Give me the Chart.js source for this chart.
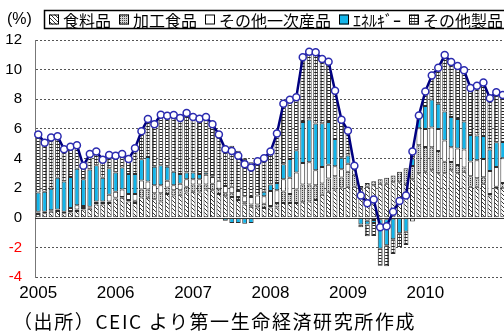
<!DOCTYPE html>
<html>
<head>
<meta charset="utf-8">
<script src="https://cdn.jsdelivr.net/npm/chart.js@4/dist/chart.umd.min.js"></script>
<style>
html,body{margin:0;padding:0;background:#fff;overflow:hidden;width:504px;height:331px;}
#wrap{position:relative;width:504px;height:331px;overflow:hidden;}
canvas{position:absolute;left:0;top:0;}
#note{position:absolute;left:13px;top:311px;font-family:"Noto Sans CJK JP",sans-serif;font-size:19px;line-height:1;letter-spacing:1.6px;white-space:nowrap;color:#000;}
</style>
</head>
<body>
<div id="wrap">
<canvas id="c" width="520" height="331"></canvas>
<div id="note">（出所）CEIC より第一生命経済研究所作成</div>
</div>
<script>
const categories = [
 '2005/01','2005/02','2005/03','2005/04','2005/05','2005/06','2005/07','2005/08','2005/09','2005/10','2005/11','2005/12',
 '2006/01','2006/02','2006/03','2006/04','2006/05','2006/06','2006/07','2006/08','2006/09','2006/10','2006/11','2006/12',
 '2007/01','2007/02','2007/03','2007/04','2007/05','2007/06','2007/07','2007/08','2007/09','2007/10','2007/11','2007/12',
 '2008/01','2008/02','2008/03','2008/04','2008/05','2008/06','2008/07','2008/08','2008/09','2008/10','2008/11','2008/12',
 '2009/01','2009/02','2009/03','2009/04','2009/05','2009/06','2009/07','2009/08','2009/09','2009/10','2009/11','2009/12',
 '2010/01','2010/02','2010/03','2010/04','2010/05','2010/06','2010/07','2010/08','2010/09','2010/10','2010/11','2010/12',
 '2011/01'
];
const yearTicks = ['2005','2006','2007','2008','2009','2010'];

const food = [
 0.25,0.3,0.4,0.45,0.3,0.35,0.45,0.55,0.6,0.9,0.9,1.0,
 1.3,1.35,1.1,1.0,1.36,1.35,1.25,1.1,1.6,1.5,1.55,1.7,
 1.75,1.7,1.9,1.85,1.6,1.45,1.4,1.2,0.9,0.75,0.7,0.65,
 0.7,0.7,1.0,1.0,1.0,1.05,1.1,1.2,1.55,1.75,1.9,2.05,
 2.1,2.1,2.0,2.1,2.2,2.3,2.3,2.4,2.4,2.3,2.6,3.0,
 3.1,3.2,3.0,3.0,3.2,3.0,3.1,2.1,2.1,2.3,1.5,2.0,
 2.0
];
const processed = [
 0.1,0.1,0.1,0.1,0.1,0.1,0.1,0.1,0.1,0.1,0.1,0.1,
 0.05,0.05,0.1,0.15,0.55,0.55,0.4,0.55,0.45,0.35,0.3,0.4,
 0.5,0.55,0.35,0.45,0.35,0.2,0.25,0.2,0.15,0.15,0.2,0.3,
 0.1,0.3,0.78,0.6,0.9,1.2,1.15,1.0,0.77,0.9,0.9,0.67,
 1.0,0.8,0.15,0.25,0.27,0.3,0.4,0.45,0.7,1.05,0.9,1.9,
 1.67,1.56,1.5,0.78,0.56,0.56,0.3,0.7,0.56,0.44,0.1,0.1,
 0.35
];
const otherPrimary = [
 0.05,-0.05,-0.05,-0.05,-0.05,0.2,0.3,0.15,0.05,0.1,0.1,0.45,
 0.4,0.5,0.4,0.45,0.6,0.55,0.55,0.55,0.45,0.35,0.45,0.5,
 0.35,0.35,0.65,0.45,0.55,0.5,0.45,0.4,0.4,0.5,0.6,0.5,
 1.0,0.85,0.82,1.1,1.15,1.44,1.5,1.0,1.1,0.93,0.67,0.55,
 0.55,0.3,0,-0.2,-0.15,-0.1,-0.1,-0.05,0,0,-0.25,1.15,
 1.22,1.33,1.5,1.44,1.0,1.11,1.2,1.0,1.22,1.22,1.56,1.33,
 1.67
];
const energy = [
 1.3,1.35,1.45,2.15,2.05,2.1,2.45,1.8,2.5,2.45,1.6,1.8,
 1.3,1.5,1.35,1.35,1.44,1.65,1.25,1.35,0.95,0.9,0.65,0.45,
 0.45,0.35,0.15,0.05,0,-0.2,-0.35,-0.35,-0.4,-0.35,-0.1,0.3,
 0.45,0.5,1.02,1.27,1.5,2.78,2.89,3.16,2.96,2.89,1.84,0.78,
 0.55,0.1,-0.45,-0.25,-0.2,-2.0,-1.75,-1.4,-1.05,-0.95,0.5,0.85,
 1.55,1.9,1.7,1.96,2.04,2.0,1.89,1.78,1.67,1.56,1.44,1.67,
 1.1
];
const otherProducts = [
 3.92,3.37,3.52,2.86,2.22,2.05,1.59,0.91,1.06,0.92,1.21,0.89,
 1.13,0.91,1.01,1.74,1.89,2.57,2.86,3.41,3.44,3.83,3.78,4.02,
 3.75,3.74,3.75,3.51,3.12,2.67,2.76,2.73,2.57,2.35,2.42,2.27,
 2.22,3.34,4.07,3.99,3.58,4.37,4.56,4.82,4.33,4.06,3.27,2.57,
 1.67,0.21,-0.19,-0.8,-0.88,-1.14,-1.43,-1.0,-0.92,-0.89,0.72,0.01,
 0.99,1.61,2.43,3.8,3.71,3.57,3.47,3.18,3.36,3.61,3.47,3.37,
 3.17
];
const total = [
 5.62,5.07,5.42,5.51,4.62,4.8,4.89,3.51,4.31,4.47,3.91,4.24,
 4.18,4.31,3.96,4.69,5.84,6.67,6.31,6.96,6.89,6.93,6.73,7.07,
 6.8,6.69,6.8,6.31,5.62,4.62,4.51,4.18,3.62,3.4,3.82,4.02,
 4.47,5.69,7.69,7.96,8.13,10.84,11.2,11.18,10.71,10.53,8.58,6.62,
 5.87,3.51,1.51,0.98,1.24,-0.64,-0.58,0.4,1.13,1.51,4.47,6.91,
 8.53,9.6,10.13,10.98,10.51,10.24,9.96,8.76,8.91,9.13,8.07,8.47,
 8.29
];
const seriesNames = ['食料品','加工食品','その他一次産品','ｴﾈﾙｷﾞｰ','その他製品'];

const canvas = document.getElementById('c');
const ctx = canvas.getContext('2d');

function tile(w, h, draw) {
  const t = document.createElement('canvas');
  t.width = w; t.height = h;
  const g = t.getContext('2d');
  draw(g);
  return ctx.createPattern(t, 'repeat');
}
const hatchPat = tile(4, 4, g => {
  g.fillStyle = '#fff'; g.fillRect(0, 0, 4, 4);
  g.fillStyle = '#333';
  for (let k = 0; k < 4; k++) g.fillRect(k, k, 1, 1);
});
const dotPat = tile(2, 2, g => {
  g.fillStyle = '#d4d4d4'; g.fillRect(0, 0, 2, 2);
  g.fillStyle = '#444'; g.fillRect(0, 0, 1, 1);
});
const gridPat = tile(3, 3, g => {
  g.fillStyle = '#fff'; g.fillRect(0, 0, 3, 3);
  g.fillStyle = '#222'; g.fillRect(0, 0, 3, 1);
  g.fillStyle = '#888'; g.fillRect(0, 1, 1, 2);
});
const fills = [hatchPat, dotPat, '#ffffff', '#13B5EA', gridPat];
const seriesData = [food, processed, otherPrimary, energy, otherProducts];

const barSets = seriesData.map((d, k) => ({
  type: 'bar',
  label: seriesNames[k],
  data: d,
  backgroundColor: fills[k],
  borderColor: '#2e2e2e',
  borderWidth: 1,
  borderSkipped: false,
  stack: 'bars',
  order: 1,
  barPercentage: 0.76,
  categoryPercentage: 1.0
}));

const lineSet = {
  type: 'line',
  label: '総合',
  data: total,
  borderColor: '#000080',
  borderWidth: 2.5,
  pointRadius: 3.5,
  pointBackgroundColor: '#ffffff',
  pointBorderColor: '#2b2bb0',
  pointBorderWidth: 1.5,
  tension: 0,
  stack: 'line',
  order: 0
};

const narrow = "'Liberation Sans Narrow','Arial Narrow','Liberation Sans',sans-serif";
const jp = "'Noto Sans CJK JP',sans-serif";

const decor = {
  id: 'decor',
  beforeDatasetsDraw(chart) {
    const {ctx: c, chartArea: a, scales: {y}} = chart;
    const y0 = Math.round(y.getPixelForValue(0)) + 0.5;
    c.save();
    c.strokeStyle = '#333';
    c.lineWidth = 1;
    c.beginPath(); c.moveTo(a.left, y0); c.lineTo(a.right, y0); c.stroke();
    c.restore();
  },
  afterDraw(chart) {
    const c = chart.ctx;
    c.save();
    c.fillStyle = '#000';
    c.font = '16px ' + narrow;
    c.textBaseline = 'middle';
    c.textAlign = 'left';
    c.fillText('(%)', 7, 20);
    c.strokeStyle = '#000';
    c.lineWidth = 1.5;
    c.strokeRect(44.5, 10.5, 480, 18);
    c.font = '16px ' + jp;
    let x = 49;
    const yMid = 19.5;
    chart.data.datasets.forEach(ds => {
      if (ds.type !== 'bar') return;
      c.fillStyle = ds.backgroundColor;
      c.fillRect(x, yMid - 5, 10, 10);
      c.strokeStyle = '#000';
      c.lineWidth = 1;
      c.strokeRect(x + 0.5, yMid - 4.5, 9, 9);
      c.fillStyle = '#000';
      c.fillText(ds.label, x + 14, yMid + 1);
      x += 14 + c.measureText(ds.label).width + 8;
    });
    c.restore();
  }
};

new Chart(ctx, {
  type: 'bar',
  data: { labels: categories, datasets: [...barSets, lineSet] },
  options: {
    responsive: false,
    animation: false,
    devicePixelRatio: 1,
    layout: { padding: { left: 0, top: 40, right: 14, bottom: 30 } },
    plugins: { legend: { display: false }, tooltip: { enabled: false } },
    scales: {
      x: {
        stacked: true,
        offset: true,
        grid: { display: false, drawTicks: false },
        border: { display: false },
        ticks: {
          autoSkip: false, maxRotation: 0, minRotation: 0, padding: 6,
          color: '#000', font: { family: narrow, size: 17 },
          callback(v, i) {
            const lab = categories[i];
            const yr = lab.slice(0, 4);
            return (lab.endsWith('/01') && yearTicks.includes(yr)) ? yr : '';
          }
        },
        afterFit(s) { s.height = 24; }
      },
      y: {
        stacked: true,
        min: -4, max: 12,
        ticks: {
          stepSize: 2, padding: 13,
          color: c => (c.tick && c.tick.value < 0) ? '#ff0000' : '#000',
          font: { family: narrow, size: 15 }
        },
        grid: {
          color: c => (c.tick && c.tick.value === 0) ? 'rgba(0,0,0,0)' : '#555',
          drawTicks: false, lineWidth: 1
        },
        border: { display: true, color: '#777', width: 1, dash: [2, 2] },
        afterFit(s) { s.width = 35; }
      }
    }
  },
  plugins: [decor]
});
</script>
</body>
</html>
